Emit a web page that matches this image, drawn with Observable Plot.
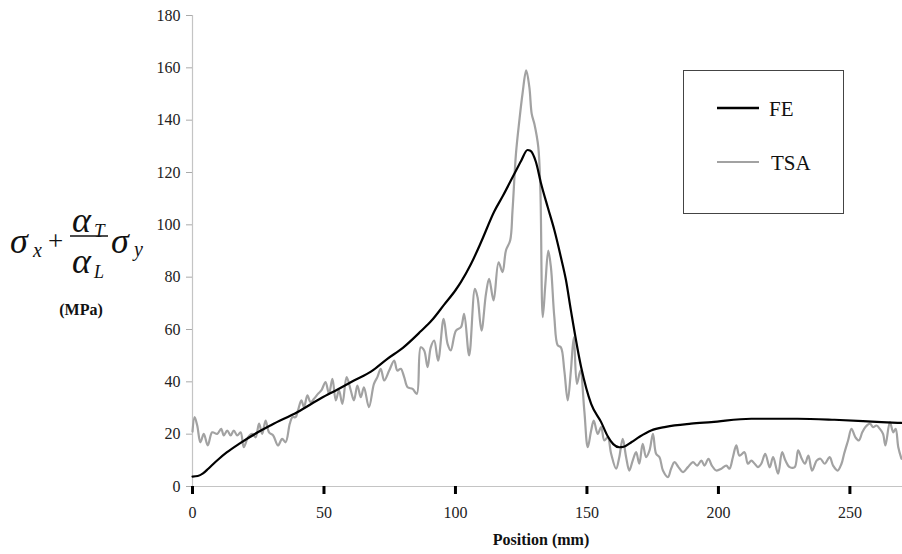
<!DOCTYPE html>
<html>
<head>
<meta charset="utf-8">
<script src="https://cdn.jsdelivr.net/npm/d3@7"></script>
<script src="https://cdn.jsdelivr.net/npm/@observablehq/plot@0.6"></script>
<style>
  html, body { margin: 0; padding: 0; background: white; font-family: "Liberation Serif", serif; }
  #wrap { position: relative; width: 902px; height: 554px; }
  #xlabel { position: absolute; left: 0; width: 1082px; top: 530px; text-align: center; font-weight: bold; font-size: 16px; color: #111; line-height: 20px; }
</style>
</head>
<body>
<div id="wrap">
  <div id="chart"></div>
  <div id="xlabel"></div>
</div>
<script>
// ---- Data ----
const fePos = [0, 2, 4, 6, 8, 10, 13, 18, 25, 30, 40, 49, 55, 61.4, 68, 74.1, 80, 86.8, 91, 95.7, 100, 102, 105.9, 110, 114.7, 118, 122.4, 125, 127.4, 128.5, 130.6, 132.5, 135.1, 137.6, 140.1, 142, 143.9, 147.8, 151.6, 155.4, 157.9, 160, 162.3, 164, 167, 170, 174.4, 180, 189.6, 197.3, 212.5, 218.8, 230, 244.1, 255, 262, 269.6];
const feVal = [3.8, 4, 5, 6.8, 8.7, 10.5, 13, 16.5, 20.8, 23.5, 28.5, 33.8, 37, 40.5, 44, 48.8, 53, 59.3, 63.5, 69.5, 75, 78, 85, 94, 105, 111, 119.5, 124.5, 128.6, 128.3, 124, 116, 106.7, 98, 87.6, 79, 67.3, 45.6, 31.6, 24.6, 19.2, 16.2, 15, 15.2, 17, 19, 21.4, 22.8, 24, 24.6, 25.9, 25.9, 25.9, 25.5, 25, 24.6, 24.3];

const tsaPos = [0, 0.8, 1.8, 3, 4.3, 5.8, 7.5, 9.4, 10.9, 11.9, 13.2, 14.5, 15.7, 17, 18.3, 19.5, 21.1, 22.7, 24, 25.3, 26.5, 27.8, 29.1, 30.7, 32.5, 34.1, 35.4, 37, 38, 39.2, 40.1, 41.4, 42.4, 43.7, 44.9, 46.2, 47.7, 49, 50.6, 51.9, 53.2, 54.5, 55.7, 57, 58.6, 60.2, 61.4, 62.7, 64, 65.2, 67.1, 69, 70.3, 71.6, 72.9, 74.8, 76.7, 77.9, 79.2, 80.5, 81.8, 83.7, 85.3, 86.8, 88.1, 89.4, 90.6, 91.9, 93.4, 95.5, 97, 98.2, 100.2, 102.1, 103.3, 105.2, 107.4, 108.4, 109.9, 111.6, 112.8, 114.5, 116.4, 117.9, 119.2, 120.8, 121.7, 123, 124.3, 125.5, 126.9, 128.1, 129, 130, 131.5, 132.3, 133.2, 134.2, 135.3, 136.3, 137.6, 138.9, 140.1, 141.4, 142.7, 143.9, 145, 146.2, 147.5, 149, 150.3, 151.6, 152.6, 154.1, 155.4, 156.6, 157.9, 159.2, 161.1, 162.3, 163.6, 164.9, 166.1, 167.4, 168.7, 169.9, 171.2, 172.5, 173.8, 175.1, 176.3, 177.6, 178.9, 180.8, 182, 183.3, 184.8, 186.5, 188.4, 190.3, 191.9, 193.5, 194.7, 196.2, 197.5, 199.2, 201.1, 203, 204.2, 205.5, 206.8, 208, 209.9, 211.2, 212.5, 213.8, 215, 216.3, 217.8, 219.5, 220.8, 222.7, 224.2, 225.5, 227.1, 229, 230.3, 231.7, 232.9, 234.2, 235.6, 237.4, 238.8, 240.4, 242.3, 243.6, 245.3, 246.8, 247.8, 249.3, 250.6, 252.1, 253.4, 254.7, 255.9, 257.6, 258.8, 260.1, 261.4, 262.6, 263.5, 265.2, 266.5, 267.4, 268.4, 269.6];
const tsaVal = [21, 26.5, 23.3, 16.9, 20.1, 15.7, 20.7, 20.1, 22, 19.5, 21.4, 19.5, 21.4, 19.5, 20.7, 15, 18.8, 20.1, 18.8, 24, 20.1, 25.2, 20.7, 19.5, 15.7, 18.2, 16.9, 24, 26.5, 26.5, 29, 32.9, 30.3, 34.8, 32.2, 33.5, 35.4, 36.7, 39.9, 35.4, 41.1, 32.9, 36.7, 31.6, 41.8, 36.7, 32.9, 38.6, 34.1, 37.9, 30.3, 39.2, 41.8, 45, 40.5, 44.3, 48.1, 44.3, 45, 41.8, 37.9, 37.3, 35.4, 53.2, 52, 45.6, 53.2, 55.8, 48.1, 64.1, 54.5, 52, 59.6, 60.9, 66, 50.1, 75.5, 72.3, 59.6, 73.6, 79.4, 71.1, 85.7, 81.9, 90.2, 94, 105.5, 127.1, 139.9, 150.1, 159, 152.6, 142.4, 138.6, 129.7, 113.1, 64.7, 77.5, 90.2, 83.8, 64.7, 53.9, 53.2, 44.3, 32.9, 44.3, 57, 39.2, 44.3, 29, 15, 21.4, 25.2, 20.1, 22.7, 17.6, 18.8, 12.5, 6.8, 11.2, 18.2, 11.2, 6.1, 9.9, 13.1, 8.7, 16.3, 11.2, 13.8, 20.1, 12.5, 11.2, 6.1, 3.6, 6.8, 9.3, 7.4, 5.5, 7.4, 9.3, 8, 9.9, 8, 10.6, 8, 6.1, 6.8, 8, 6.8, 11.2, 15.7, 11.8, 13.1, 8.7, 9.9, 8.7, 7.4, 8.7, 12.5, 7.3, 11.2, 4.9, 13.1, 9.9, 7.4, 7.4, 13.8, 10.6, 8.7, 11.8, 6.1, 9.9, 10.6, 8.7, 11.2, 8, 6.1, 8.7, 12.5, 17.6, 22, 18.8, 17.6, 20.7, 22.7, 24, 22.7, 23.3, 22, 20.1, 15.7, 24.6, 20.7, 22, 15, 10.6];

const xTicks = [0, 50, 100, 150, 200, 250];
const yTicks = [0, 20, 40, 60, 80, 100, 120, 140, 160, 180];
const seriesNames = ["FE", "TSA"];
const xLabel = "Position (mm)";
const unitLabel = "(MPa)";

// ---- Build tables ----
const fe = fePos.map((p, i) => ({pos: p, val: feVal[i]}));
const tsa = tsaPos.map((p, i) => ({pos: p, val: tsaVal[i]}));

const FONT = "Liberation Serif";

const svg = Plot.plot({
  width: 902,
  height: 554,
  marginLeft: 192,
  marginRight: 0,
  marginTop: 15,
  marginBottom: 68,
  style: {fontFamily: FONT, fontSize: "16px", background: "white"},
  x: {domain: [0, 270]},
  y: {domain: [0, 180]},
  marks: [
    Plot.ruleY([0], {stroke: "#c4c4c4", strokeWidth: 1.2}),
    Plot.ruleX([0], {stroke: "#c4c4c4", strokeWidth: 1.2}),
    Plot.axisY({ticks: yTicks, tickSize: 6, tickPadding: 6, stroke: "#aaa", fill: "#222", label: null}),
    Plot.axisX({ticks: xTicks, tickSize: 8, tickPadding: 12, stroke: "black", strokeWidth: 3, fill: "#222", label: null}),
    Plot.line(tsa, {x: "pos", y: "val", stroke: "#a2a2a2", strokeWidth: 2.2, curve: "catmull-rom"}),
    Plot.line(fe, {x: "pos", y: "val", stroke: "black", strokeWidth: 2.2, curve: "monotone-x"})
  ]
});
document.getElementById("chart").appendChild(svg);
document.getElementById("xlabel").textContent = xLabel;

// ---- Annotations: y label (formula), legend ----
const g = d3.select(svg).append("g").attr("fill", "#111").attr("font-family", FONT).attr("text-anchor", "start");
function t(x, y, s, size, opts = {}) {
  const el = g.append("text").attr("x", x).attr("y", y).attr("font-size", size)
    .attr("font-family", FONT).text(s);
  if (opts.italic) el.attr("font-style", "italic");
  if (opts.bold) el.attr("font-weight", "bold");
  el.attr("text-anchor", opts.anchor || "start");
  return el;
}
// formula
t(10, 253, "σ", 36, {italic: true});
t(33, 257, "x", 20, {italic: true});
t(48, 250, "+", 27);
t(72, 232, "α", 36, {italic: true});
t(94, 237, "T", 19, {italic: true});
g.append("line").attr("x1", 70).attr("x2", 108).attr("y1", 236).attr("y2", 236).attr("stroke", "#111").attr("stroke-width", 1.3);
t(72, 273, "α", 36, {italic: true});
t(94, 278, "L", 18, {italic: true});
t(111, 253, "σ", 36, {italic: true});
t(134, 256, "y", 20, {italic: true});
t(81, 315, unitLabel, 16, {bold: true, anchor: "middle"});
// legend
const lg = d3.select(svg).append("g").attr("text-anchor", "start").attr("font-family", FONT);
lg.append("rect").attr("x", 683.5).attr("y", 70.5).attr("width", 160).attr("height", 143)
  .attr("fill", "white").attr("stroke", "#444").attr("stroke-width", 1);
const legendColors = ["black", "#a2a2a2"];
const legendY = [108, 162];
seriesNames.forEach((name, i) => {
  lg.append("line").attr("x1", 717).attr("x2", 759).attr("y1", legendY[i]).attr("y2", legendY[i])
    .attr("stroke", legendColors[i]).attr("stroke-width", i === 0 ? 2.5 : 2);
  lg.append("text").attr("x", i === 0 ? 769 : 771).attr("y", legendY[i] + 8).attr("font-size", 21)
    .attr("font-family", FONT).attr("text-anchor", "start").attr("fill", "#111").text(name);
});
</script>
</body>
</html>
